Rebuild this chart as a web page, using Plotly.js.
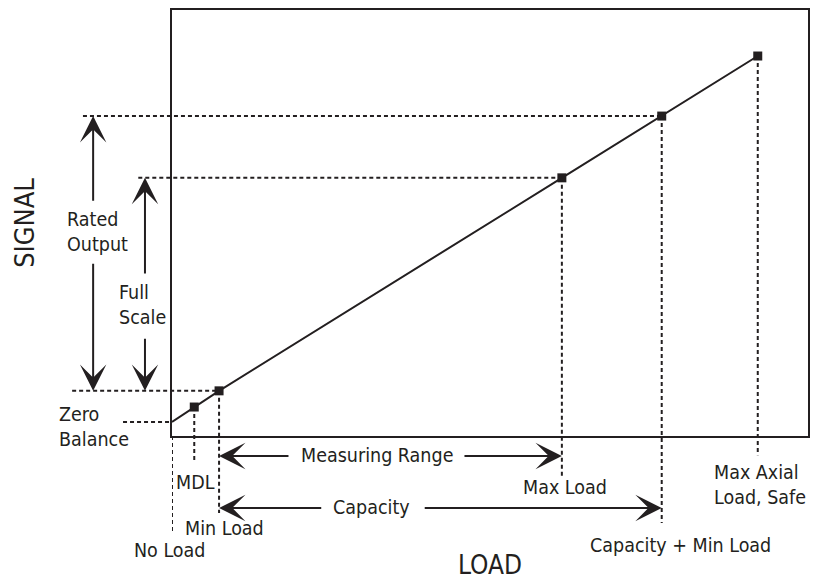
<!DOCTYPE html>
<html><head><meta charset="utf-8">
<script src="https://cdn.plot.ly/plotly-3.0.1.min.js"></script>
<style>html,body{margin:0;padding:0;background:#fff}</style>
</head><body><div id="chart" style="width:815px;height:580px"></div>
<script>
// ---- data (arbitrary load / signal units) ----
const pointNames   = ['No Load', 'MDL', 'Min Load', 'Max Load', 'Capacity + Min Load', 'Max Axial Load, Safe'];
const loadValues   = [0, 3.5, 7.4, 61.3, 77.0, 92.1];
const signalValues = [3.3, 6.8, 10.6, 60.6, 75.1, 89.2];
const loadLabels   = ['No Load', 'MDL', 'Min Load', 'Max Load', 'Capacity + Min Load', 'Max Axial<br>Load, Safe'];
const spanLabels   = ['Rated<br>Output', 'Full<br>Scale', 'Measuring Range', 'Capacity'];
const signalLabel  = ['Zero<br>Balance'];

// ---- layout helpers ----
const W = 815, H = 580;
const M = {l: 172, r: 7, t: 10, b: 144};
const XR = [0, 100], YR = [0, 100];
const PXU = (W - M.l - M.r) / (XR[1] - XR[0]);
const PYU = (H - M.t - M.b) / (YR[1] - YR[0]);
const INK = '#231f20';
const FONT = 'DejaVu Sans Condensed, Liberation Sans Narrow, Arial Narrow, sans-serif';
const LABEL_SIZE = 19.5;
const toPX = v => (v - XR[0]) / (XR[1] - XR[0]);
const toPY = v => (v - YR[0]) / (YR[1] - YR[0]);
const dash = {color: INK, width: 2, dash: '4px,3px'};

const shapes = [];
// horizontal guides: [point index, left end (x units)]
[[0, -7.7], [2, -15.7], [3, -5.3], [4, -14.0]].forEach(([i, left]) => {
  shapes.push({type: 'line', xref: 'paper', yref: 'y', x0: toPX(left), x1: toPX(loadValues[i]),
    y0: signalValues[i], y1: signalValues[i], line: dash, layer: 'above'});
});
// vertical guides: bottom end per point (y units)
const vBottoms = [-22.5, -6.3, -18.1, -9.9, -20.4, -4.5];
loadValues.forEach((lv, i) => {
  shapes.push({type: 'line', xref: 'x', yref: 'paper', x0: lv, x1: lv,
    y0: toPY(i === 0 ? YR[0] : signalValues[i]), y1: toPY(vBottoms[i]), line: dash, layer: 'above'});
});

const annotations = [];
function arrow(x, y, tx, ty) {
  annotations.push({xref: 'paper', yref: 'paper', axref: 'pixel', ayref: 'pixel',
    x: toPX(x), y: toPY(y), ax: (tx - x) * PXU, ay: -(ty - y) * PYU,
    text: '', showarrow: true, arrowhead: 3, arrowsize: 2.2, arrowwidth: 2, arrowcolor: INK,
    standoff: 0, startstandoff: 0});
}
function label(text, x, y, xanchor, align) {
  annotations.push({xref: 'paper', yref: 'paper', x: toPX(x), y: toPY(y), text: text, showarrow: false,
    xanchor: xanchor || 'center', yanchor: 'middle', align: align || 'center',
    font: {family: FONT, size: LABEL_SIZE, color: INK}});
}
// Rated Output (between min-load signal and capacity+min signal)
arrow(-12.4, signalValues[4], -12.4, 54.9);
arrow(-12.4, signalValues[2], -12.4, 40.8);
label(spanLabels[0], -16.8, 48.0, 'left', 'left');
// Full Scale (min-load signal to max-load signal)
arrow(-4.25, signalValues[3], -4.25, 37.8);
arrow(-4.25, signalValues[2], -4.25, 23.2);
label(spanLabels[1], -8.65, 30.75, 'left', 'left');
// Measuring Range (min load to max load)
arrow(loadValues[2], -4.69, 18.55, -4.69);
arrow(loadValues[3], -4.69, 45.75, -4.69);
label(spanLabels[2], 32.3, -4.69);
// Capacity (min load to capacity + min load)
arrow(loadValues[2], -16.9, 23.7, -16.9);
arrow(loadValues[4], -16.9, 39.5, -16.9);
label(spanLabels[3], 31.4, -16.9);
// point labels
label(signalLabel[0], -18.1, 2.0, 'left', 'left');
label(loadLabels[1], 3.77, -10.8);
label(loadLabels[2], 8.33, -21.6);
label(loadLabels[0], -0.47, -26.8);
label(loadLabels[3], 61.8, -12.0);
label(loadLabels[4], 80.0, -25.6);
label(loadLabels[5], 84.9, -11.6, 'left', 'left');

const traces = [
  {type: 'scatter', mode: 'lines', x: loadValues, y: signalValues, name: 'signal',
   line: {color: INK, width: 2}, hoverinfo: 'skip', cliponaxis: false},
  {type: 'scatter', mode: 'markers', x: loadValues.slice(1), y: signalValues.slice(1),
   text: pointNames.slice(1), name: 'points',
   marker: {symbol: 'square', size: 9, color: INK}, hoverinfo: 'text', cliponaxis: false}
];

const axisBase = {showgrid: false, zeroline: false, showticklabels: false, ticks: '',
  showline: true, linecolor: INK, linewidth: 2, mirror: true, fixedrange: true};

const layout = {
  width: W, height: H,
  margin: M,
  paper_bgcolor: '#fff', plot_bgcolor: '#fff',
  showlegend: false,
  font: {family: FONT, color: INK},
  xaxis: Object.assign({}, axisBase, {range: XR,
    title: {text: 'LOAD', font: {family: FONT, size: 26, color: INK}, standoff: 131}}),
  yaxis: Object.assign({}, axisBase, {range: YR,
    title: {text: 'SIGNAL', font: {family: FONT, size: 27, color: INK}, standoff: 128}}),
  shapes: shapes,
  annotations: annotations
};

Plotly.newPlot('chart', traces, layout, {displayModeBar: false, responsive: false});
</script></body></html>
